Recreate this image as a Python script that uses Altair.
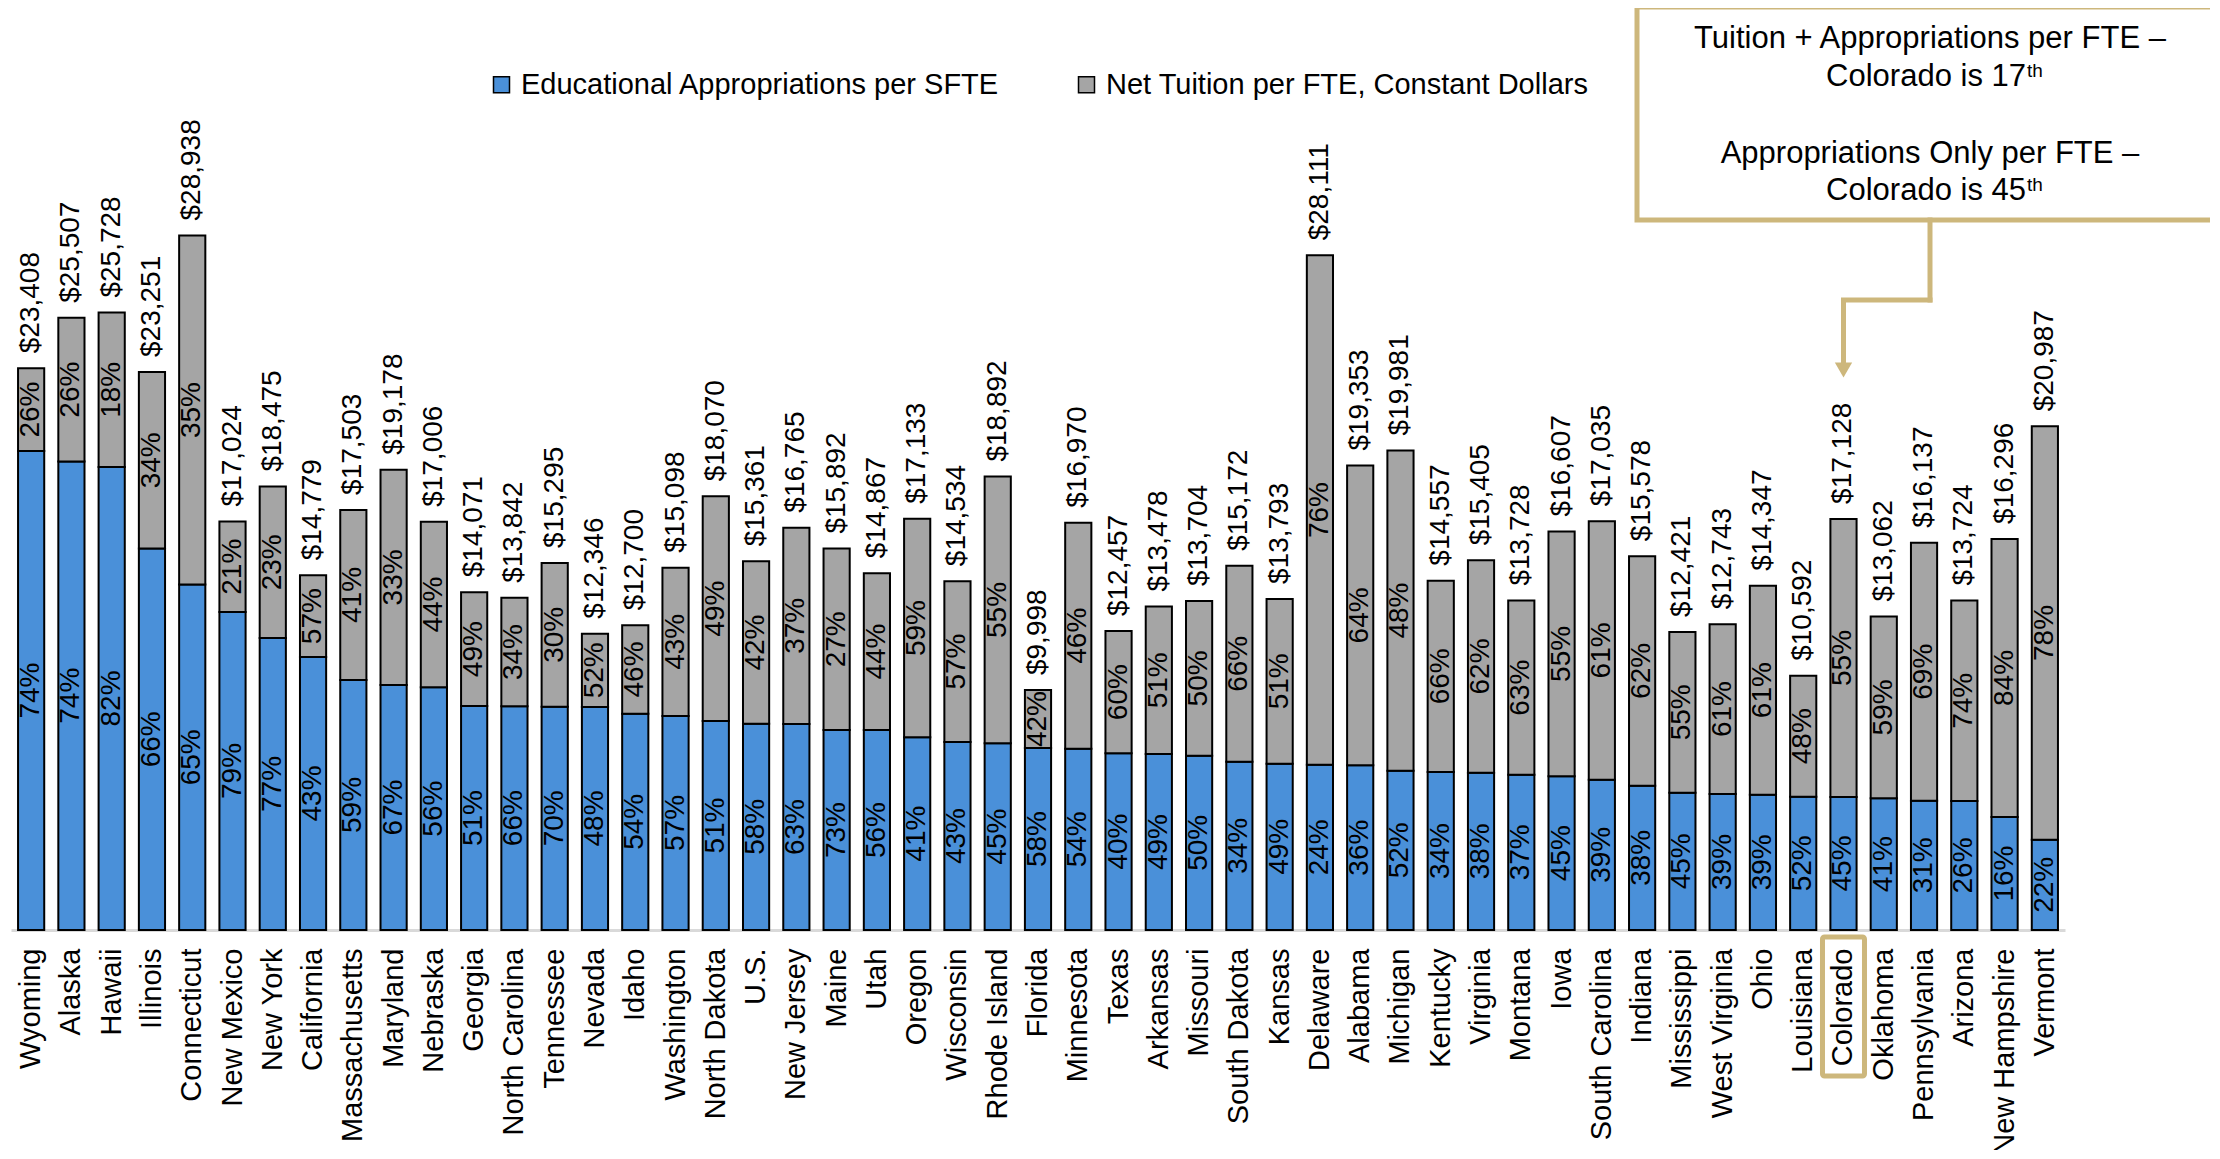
import altair as alt
import pandas as pd

states = ["Wyoming", "Alaska", "Hawaii", "Illinois", "Connecticut", "New Mexico", "New York",
          "California", "Massachusetts", "Maryland", "Nebraska", "Georgia", "North Carolina",
          "Tennessee", "Nevada", "Idaho", "Washington", "North Dakota", "U.S.", "New Jersey",
          "Maine", "Utah", "Oregon", "Wisconsin", "Rhode Island", "Florida", "Minnesota",
          "Texas", "Arkansas", "Missouri", "South Dakota", "Kansas", "Delaware", "Alabama",
          "Michigan", "Kentucky", "Virginia", "Montana", "Iowa", "South Carolina", "Indiana",
          "Mississippi", "West Virginia", "Ohio", "Louisiana", "Colorado", "Oklahoma",
          "Pennsylvania", "Arizona", "New Hampshire", "Vermont"]

appropriations = [19958, 19525, 19292, 15892, 14392, 13250, 12167, 11375, 10417, 10208, 10112,
                  9333, 9321, 9304, 9292, 9013, 8917, 8708, 8596, 8583, 8333, 8333, 8029, 7833,
                  7779, 7583, 7554, 7363, 7333, 7263, 7013, 6929, 6888, 6863, 6638, 6583, 6554,
                  6471, 6404, 6263, 6013, 5721, 5667, 5638, 5554, 5542, 5488, 5388, 5375, 4708,
                  3763]

totals = [23408, 25507, 25728, 23251, 28938, 17024, 18475, 14779, 17503, 19178, 17006, 14071,
          13842, 15295, 12346, 12700, 15098, 18070, 15361, 16765, 15892, 14867, 17133, 14534,
          18892, 9998, 16970, 12457, 13478, 13704, 15172, 13793, 28111, 19353, 19981, 14557,
          15405, 13728, 16607, 17035, 15578, 12421, 12743, 14347, 10592, 17128, 13062, 16137,
          13724, 16296, 20987]

approp_pct = [74, 74, 82, 66, 65, 79, 77, 43, 59, 67, 56, 51, 66, 70, 48, 54, 57, 51, 58, 63,
              73, 56, 41, 43, 45, 58, 54, 40, 49, 50, 34, 49, 24, 36, 52, 34, 38, 37, 45, 39,
              38, 45, 39, 39, 52, 45, 41, 31, 26, 16, 22]

tuition_pct = [26, 26, 18, 34, 35, 21, 23, 57, 41, 33, 44, 49, 34, 30, 52, 46, 43, 49, 42, 37,
               27, 44, 59, 57, 55, 42, 46, 60, 51, 50, 66, 51, 76, 64, 48, 66, 62, 63, 55, 61,
               62, 55, 61, 61, 48, 55, 59, 69, 74, 84, 78]

series = ["Educational Appropriations per SFTE", "Net Tuition per FTE, Constant Dollars"]
colors = ["#4A90D9", "#A5A5A5"]
GOLD = "#CDB77C"
FONT = "Liberation Sans"

rows = []
for s, a, t in zip(states, appropriations, totals):
    rows.append({"state": s, "series": series[0], "value": a, "ord": 0})
    rows.append({"state": s, "series": series[1], "value": t - a, "ord": 1})
bars_df = pd.DataFrame(rows)

pct_rows = []
for s, a, t, pa, pt in zip(states, appropriations, totals, approp_pct, tuition_pct):
    pct_rows.append({"state": s, "mid": a / 2, "label": f"{pa}%"})
    pct_rows.append({"state": s, "mid": a + (t - a) / 2, "label": f"{pt}%"})
pct_df = pd.DataFrame(pct_rows)

tot_df = pd.DataFrame({"state": states, "total": totals,
                       "label": [f"${v:,}" for v in totals]})

xscale = alt.Scale(paddingInner=0.35, paddingOuter=0.175)
yscale = alt.Scale(domain=[0, 30000], nice=False)

X = alt.X("state:N", sort=states, scale=xscale,
          axis=alt.Axis(title=None, labelAngle=270, labelFontSize=29, labelFont=FONT,
                        labelColor="black", labelPadding=18, ticks=False,
                        domainColor="#D9D9D9", domainWidth=3, grid=False, labelLimit=400))
Xn = alt.X("state:N", sort=states, scale=xscale)

bars = alt.Chart(bars_df).mark_bar(stroke="black", strokeWidth=2).encode(
    x=X,
    y=alt.Y("value:Q", stack="zero", scale=yscale,
            axis=alt.Axis(title=None, labels=False, ticks=False, domain=False,
                          grid=True, gridColor="#D9D9D9", gridWidth=1.5,
                          values=[0, 5000, 10000, 15000, 20000, 25000, 30000])),
    color=alt.Color("series:N", scale=alt.Scale(domain=series, range=colors),
                    legend=alt.Legend(title=None, orient="none", legendX=476, legendY=-140,
                                      direction="horizontal", symbolType="square",
                                      symbolSize=256, symbolStrokeColor="black",
                                      symbolStrokeWidth=1.5, labelFontSize=29, labelFont=FONT,
                                      labelColor="black", labelLimit=1000, columnPadding=72,
                                      labelOffset=5)),
    order=alt.Order("ord:Q"),
)

pct_text = alt.Chart(pct_df).mark_text(angle=270, fontSize=28, font=FONT, color="black",
                                       align="center", baseline="middle").encode(
    x=Xn,
    y=alt.Y("mid:Q", scale=yscale, axis=None),
    text="label:N",
)

tot_text = alt.Chart(tot_df).mark_text(angle=270, fontSize=28, font=FONT, color="black",
                                       align="left", baseline="middle", dx=15).encode(
    x=Xn,
    y=alt.Y("total:Q", scale=yscale, axis=None),
    text="label:N",
)

co_df = pd.DataFrame({"state": ["Colorado"]})

co_box = alt.Chart(co_df).mark_bar(filled=False, stroke=GOLD, strokeWidth=5, width=42,
                                   cornerRadius=2).encode(
    x=Xn, y=alt.value(727), y2=alt.value(866),
)

arrow_v1 = alt.Chart(co_df).mark_rule(color=GOLD, strokeWidth=5, strokeCap="square").encode(
    x=alt.value(1919), y=alt.value(10), y2=alt.value(90))
arrow_h = alt.Chart(co_df).mark_rule(color=GOLD, strokeWidth=5, strokeCap="square").encode(
    x=Xn, x2=alt.value(1919), y=alt.value(90))
arrow_v2 = alt.Chart(co_df).mark_rule(color=GOLD, strokeWidth=5).encode(
    x=Xn, y=alt.value(90), y2=alt.value(154))
arrow_head = alt.Chart(co_df).mark_point(shape="triangle-down", size=300, filled=True,
                                         color=GOLD, opacity=1).encode(
    x=Xn, y=alt.value(160))

note_box = alt.Chart(co_df).mark_rect(fill="white", stroke=GOLD, strokeWidth=5).encode(
    x=alt.value(1626), x2=alt.value(2400), y=alt.value(-203), y2=alt.value(10))

note_lines = pd.DataFrame({
    "text": ["Tuition + Appropriations per FTE \u2013", "Appropriations Only per FTE \u2013"],
    "y": [-162, -47],
})
note_main = alt.Chart(note_lines).mark_text(fontSize=31, font=FONT, color="black",
                                            align="center", baseline="alphabetic").encode(
    x=alt.value(1919), y=alt.Y("y:Q", scale=None, axis=None), text="text:N")

rank_lines = pd.DataFrame({"text": ["Colorado is 17", "Colorado is 45"], "y": [-124, -10]})
note_rank = alt.Chart(rank_lines).mark_text(fontSize=31, font=FONT, color="black",
                                            align="right", baseline="alphabetic").encode(
    x=alt.value(2015), y=alt.Y("y:Q", scale=None, axis=None), text="text:N")

sup_lines = pd.DataFrame({"text": ["th", "th"], "y": [-133, -19]})
note_sup = alt.Chart(sup_lines).mark_text(fontSize=19, font=FONT, color="black",
                                          align="left", baseline="alphabetic").encode(
    x=alt.value(2016), y=alt.Y("y:Q", scale=None, axis=None), text="text:N")

chart = alt.layer(
    bars, pct_text, tot_text, co_box, note_box, arrow_v1, arrow_h, arrow_v2, arrow_head,
    note_main, note_rank, note_sup,
).properties(
    width=2054, height=720,
    autosize=alt.AutoSizeParams(type="none"),
    padding={"left": 3, "top": 202, "right": 145, "bottom": 220},
).configure(font=FONT).configure_view(strokeWidth=0, stroke=None)

chart.save("out.html", embed_options={"renderer": "svg", "actions": False})
